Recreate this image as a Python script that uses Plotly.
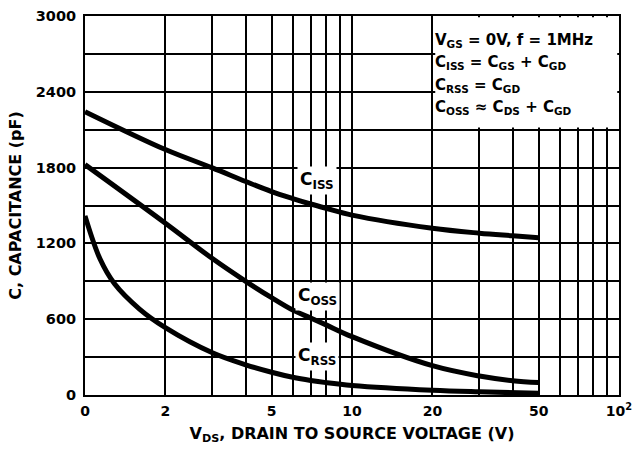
import math
import plotly.graph_objects as go

# ---- data ----
v_iss = [1, 2, 3, 4, 5, 6, 7, 8, 10, 20, 30, 40, 50]
c_iss = [2243, 1943, 1798, 1690, 1610, 1555, 1512, 1478, 1424, 1320, 1281, 1260, 1244]

v_oss = [1, 2, 3, 4, 5, 6, 7, 8, 10, 20, 30, 40, 50]
c_oss = [1824, 1360, 1080, 900, 770, 672, 610, 555, 462, 232, 150, 113, 98]

v_rss = [1, 1.14, 1.29, 1.6, 2, 3, 4, 5, 6, 7, 8, 10, 20, 30, 50]
c_rss = [1418, 1074, 880, 680, 533, 334, 239, 180, 140, 115, 98, 76, 38, 25, 13]

x_tickvals = [1, 2, 5, 10, 20, 50, 100]
x_ticktext = ["0", "2", "5", "10", "20", "50", "10<sup>2</sup>"]
x_minorvals = [3, 4, 6, 7, 8, 9, 30, 40, 60, 70, 80, 90]
y_tickvals = [0, 600, 1200, 1800, 2400, 3000]

FONT = "DejaVu Sans, Liberation Sans, Arial"

fig = go.Figure()
for xs, ys in [(v_iss, c_iss), (v_oss, c_oss), (v_rss, c_rss)]:
    fig.add_trace(go.Scatter(x=xs, y=ys, mode="lines",
                             line=dict(color="black", width=5, shape="spline", smoothing=1.0),
                             showlegend=False, hoverinfo="skip"))

# white box for the conditions text (covers grid lines)
fig.add_shape(type="rect", xref="x", yref="y", x0=20.5, x1=98.5, y0=2118, y1=2990,
              fillcolor="white", line=dict(width=0), layer="above")

cond_lines = [
    "V<sub>GS</sub> = 0V, f = 1MHz",
    "C<sub>ISS</sub> = C<sub>GS</sub> + C<sub>GD</sub>",
    "C<sub>RSS</sub> = C<sub>GD</sub>",
    "C<sub>OSS</sub> \u2248 C<sub>DS</sub> + C<sub>GD</sub>",
]
cond_y = [40, 62, 86, 108]  # pixel rows of text centers
plot_top, plot_h = 16, 379
for t, py in zip(cond_lines, cond_y):
    fig.add_annotation(text="<b>" + t + "</b>", xref="paper", yref="paper",
                       x=(433 - 85) / 534, y=1 - (py - plot_top) / plot_h,
                       xanchor="left", yanchor="middle", showarrow=False,
                       font=dict(family=FONT, size=15, color="black"))

# curve labels
labels = [("C<sub>ISS</sub>", 7.4, 1700), ("C<sub>OSS</sub>", 7.4, 780), ("C<sub>RSS</sub>", 7.4, 302)]
for t, lx, ly in labels:
    fig.add_annotation(text="<b>" + t + "</b>", x=math.log10(lx), y=ly, xref="x", yref="y",
                       showarrow=False, bgcolor="white", borderpad=2,
                       font=dict(family=FONT, size=17, color="black"))

fig.update_layout(
    width=635, height=449,
    margin=dict(l=85, r=16, t=16, b=54),
    paper_bgcolor="white", plot_bgcolor="white",
    font=dict(family=FONT, color="black"),
)
fig.update_xaxes(
    type="log", range=[0, 2], automargin=False,
    tickmode="array", tickvals=x_tickvals, ticktext=x_ticktext,
    showgrid=True, gridcolor="black", gridwidth=1.5,
    minor=dict(tickmode="array", tickvals=x_minorvals, showgrid=True,
               gridcolor="black", gridwidth=1.5, ticks="inside", ticklen=5,
               tickcolor="black", tickwidth=1.5),
    ticks="inside", ticklen=5, tickwidth=1.5, tickcolor="black",
    showline=True, linecolor="black", linewidth=2, mirror="ticks",
    tickfont=dict(family=FONT, size=14, color="black", weight="bold"),
    ticklabelstandoff=2,
    title=dict(text="<b>V<sub>DS</sub>, DRAIN TO SOURCE VOLTAGE (V)</b>",
               font=dict(family=FONT, size=16, color="black"), standoff=10),
    zeroline=False,
)
fig.update_yaxes(
    range=[0, 3000], automargin=False,
    tickmode="array", tickvals=y_tickvals,
    showgrid=True, gridcolor="black", gridwidth=1.5,
    minor=dict(dtick=300, showgrid=True, gridcolor="black", gridwidth=1.5,
               ticks="inside", ticklen=5, tickcolor="black", tickwidth=1.5),
    ticks="inside", ticklen=5, tickwidth=1.5, tickcolor="black",
    showline=True, linecolor="black", linewidth=2, mirror="ticks",
    tickfont=dict(family=FONT, size=14.5, color="black", weight="bold"),
    ticklabelstandoff=4,
    title=dict(text="<b>C, CAPACITANCE (pF)</b>",
               font=dict(family=FONT, size=16, color="black"), standoff=10),
    zeroline=False,
)

fig.write_html("out.html", config={"displayModeBar": False},
               post_script="document.body.style.margin='0px';")
